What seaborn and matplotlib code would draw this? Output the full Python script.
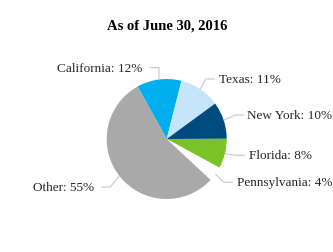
import matplotlib
matplotlib.use("Agg")
import matplotlib.pyplot as plt
import seaborn as sns
import numpy as np

# ---- data ----
states = ["California", "Texas", "New York", "Florida", "Pennsylvania", "Other"]
shares = [12, 11, 10, 8, 4, 55]
title = "As of June 30, 2016"

# ---- style ----
colors = ["#00AEEF", "#C4E5FA", "#004B7D", "#7BC224", "#FFFFFF", "#A9A9A9"]
# text anchor (x, y, ha, gap) in pie-radius units
label_layout = {
    "California": (-0.41, 1.19, "right", 0.13),
    "Texas": (0.87, 1.00, "left", 0.07),
    "New York": (1.34, 0.40, "left", 0.05),
    "Florida": (1.37, -0.27, "left", 0.07),
    "Pennsylvania": (1.17, -0.72, "left", 0.07),
    "Other": (-1.21, -0.80, "right", 0.12),
}

sns.set_theme(style="white")
plt.rcParams['font.family'] = ['Liberation Serif', 'DejaVu Serif']

W, H = 333, 253
fig = plt.figure(figsize=(W / 100, H / 100), dpi=100)
fig.patch.set_facecolor("white")
cx, cy, r = 166.7, 140, 60
ax = fig.add_axes([(cx - r) / W, (H - cy - r) / H, 2 * r / W, 2 * r / H])

wedges, _ = ax.pie(shares, colors=colors, startangle=119, counterclock=False,
                   radius=1, wedgeprops=dict(linewidth=0))
ax.set_xlim(-1, 1)
ax.set_ylim(-1, 1)
ax.set_aspect('equal')
ax.axis('off')

for w, name, val in zip(wedges, states, shares):
    tx, ty, ha, gap = label_layout[name]
    th = np.deg2rad((w.theta1 + w.theta2) / 2)
    px, py = np.cos(th), np.sin(th)
    s = 1 if ha == "left" else -1
    ex = tx - s * gap
    elx = ex - s * 0.15
    ax.plot([ex, elx, px], [ty, ty, py], color="#C8C8C8", lw=0.8,
            clip_on=False, solid_capstyle="butt")
    ax.text(tx, ty, f"{name}: {val}%", ha=ha, va="center", fontsize=9.5,
            color="#262626", clip_on=False)

fig.text(167 / W, 1 - 26 / H, title, ha="center", va="center",
         fontsize=10.5, fontweight="bold", color="black")

fig.savefig("out.png", dpi=100, facecolor="white")
